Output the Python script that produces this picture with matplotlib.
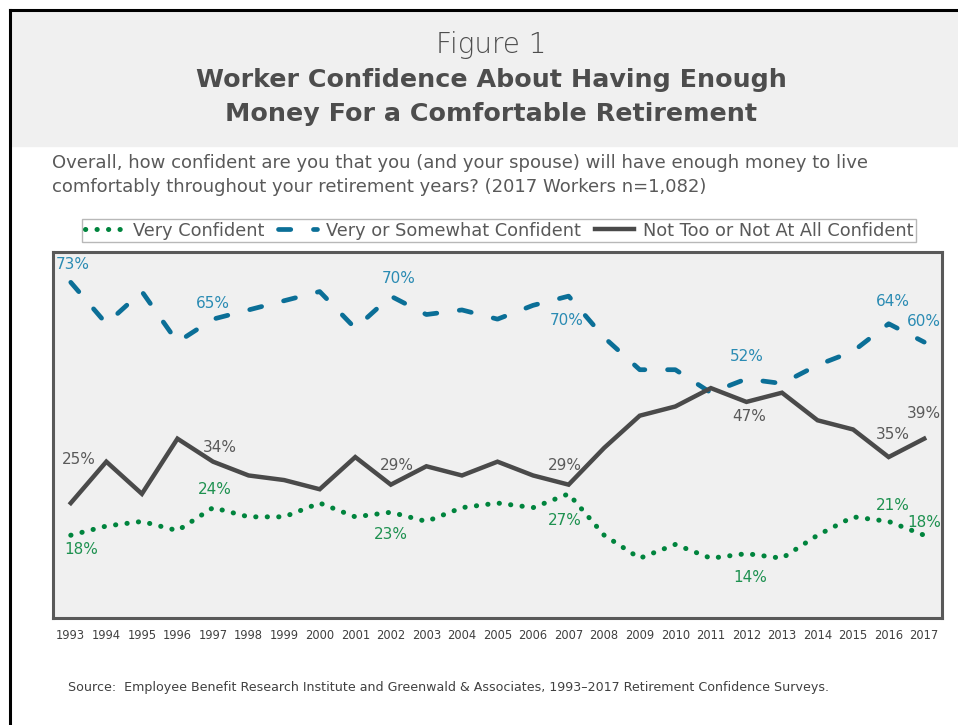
import numpy as np
import matplotlib
matplotlib.use("Agg")
import matplotlib.pyplot as plt
from matplotlib.lines import Line2D
from matplotlib.patches import Rectangle

# ---------------- data ----------------
years = list(range(1993, 2018))
very_conf = [18, 20, 21, 19, 24, 22, 22, 25, 22, 23, 21, 24, 25,
             24, 27, 18, 13, 16, 13, 14, 13, 18, 22, 21, 18]
somewhat_conf = [73, 64, 71, 60, 65, 67, 69, 71, 63, 70, 66, 67, 65,
                 68, 70, 61, 54, 54, 49, 52, 51, 55, 58, 64, 60]
not_conf = [25, 34, 27, 39, 34, 31, 30, 28, 35, 29, 33, 31, 34,
            31, 29, 37, 44, 46, 50, 47, 49, 43, 41, 35, 39]
label_years = [1993, 1997, 2002, 2007, 2012, 2016, 2017]
series_names = ["Very Confident", "Very or Somewhat Confident",
                "Not Too or Not At All Confident"]

title_top = "Figure 1"
title_main = "Worker Confidence About Having Enough\nMoney For a Comfortable Retirement"
question = ("Overall, how confident are you that you (and your spouse) will have enough money to live\n"
            "comfortably throughout your retirement years? (2017 Workers n=1,082)")
source = ("Source:  Employee Benefit Research Institute and Greenwald & Associates, "
          "1993\u20132017 Retirement Confidence Surveys.")

# label offsets in pixels (dx, dy up) for each labelled year
off_blue = [(2, 18), (0, 16), (8, 18), (-2, -24), (0, 22), (4, 22), (0, 21)]
off_gray = [(8, 44), (7, 14), (6, 19), (-4, 19), (3, -15), (4, 23), (0, 25)]
off_green = [(10, -14), (2, 18), (0, -22), (-4, -27), (4, -24), (4, 16), (0, 13)]

GREEN = "#00843d"
GREEN_T = "#1e9150"
BLUE = "#0b6f97"
BLUE_T = "#2a8bb3"
GRAY = "#4a4a4a"
GRAY_T = "#5a5a5a"

plt.rcParams["font.family"] = ["DejaVu Sans"]

fig = plt.figure(figsize=(9.58, 7.25), dpi=100)

# header band and page border
fig.patches.append(Rectangle((10 / 958, 1 - 146 / 725), 1, (146 - 11) / 725,
                             transform=fig.transFigure, color="#f0f0f0", zorder=0))
fig.lines.append(Line2D([10 / 958, 1], [1 - 10 / 725, 1 - 10 / 725],
                        transform=fig.transFigure, color="black", lw=2.2))
fig.lines.append(Line2D([10 / 958, 10 / 958], [0, 1 - 10 / 725],
                        transform=fig.transFigure, color="black", lw=2.2))

fig.text(491 / 958, 1 - 45 / 725, title_top, ha="center", va="center",
         fontsize=20, color="#4d4d4d", fontweight="light")
fig.text(491 / 958, 1 - 97 / 725, title_main, ha="center", va="center",
         fontsize=18.3, color="#4d4d4d", fontweight="bold", linespacing=1.5)
fig.text(52 / 958, 1 - 175 / 725, question, ha="left", va="center",
         fontsize=13, color="#595959", linespacing=1.4)
fig.text(68 / 958, 1 - 688 / 725, source, ha="left", va="center",
         fontsize=9.1, color="#404040")

ax = fig.add_axes([53 / 958, 1 - 618 / 725, (942 - 53) / 958, (618 - 252) / 725])
ax.set_facecolor("#f0f0f0")

ax.plot(years, very_conf, color=GREEN, lw=3.6, linestyle=(0, (0.05, 2.25)),
        dash_capstyle="round", label=series_names[0], zorder=3)
ax.plot(years, somewhat_conf, color=BLUE, lw=3.4, linestyle=(0, (2.6, 4.8)),
        dash_capstyle="round", label=series_names[1], zorder=3)
ax.plot(years, not_conf, color=GRAY, lw=3.2, solid_joinstyle="miter",
        label=series_names[2], zorder=3)

px = 0.72  # pixel -> point
for vals, offs, col in [(somewhat_conf, off_blue, BLUE_T),
                        (not_conf, off_gray, GRAY_T),
                        (very_conf, off_green, GREEN_T)]:
    for yr, (dx, dy) in zip(label_years, offs):
        v = vals[years.index(yr)]
        ax.annotate(f"{v}%", (yr, v), xytext=(dx * px, dy * px),
                    textcoords="offset points", ha="center", va="center",
                    fontsize=11, color=col, zorder=4)

ax.set_xlim(1992.5, 2017.5)
ax.set_ylim(0, 79.6)
ax.set_xticks(years)
ax.set_xticklabels([str(y) for y in years], fontsize=8.3, color="#404040")
ax.set_yticks([])
ax.tick_params(axis="x", length=0, pad=8)
for s in ax.spines.values():
    s.set_color("#595959")
    s.set_linewidth(2.2)

leg = ax.legend(loc="center", bbox_to_anchor=(82 / 958, 1 - 243 / 725, (916 - 82) / 958, 25 / 725),
                bbox_transform=fig.transFigure, ncol=3, mode="expand", fontsize=12.8,
                frameon=True, fancybox=False, edgecolor="#a6a6a6", handlelength=2.2,
                handletextpad=0.5, borderpad=0.15, borderaxespad=0, columnspacing=0.8)
leg.get_frame().set_linewidth(1.0)
for t in leg.get_texts():
    t.set_color("#595959")

fig.savefig("out.png", dpi=100)
